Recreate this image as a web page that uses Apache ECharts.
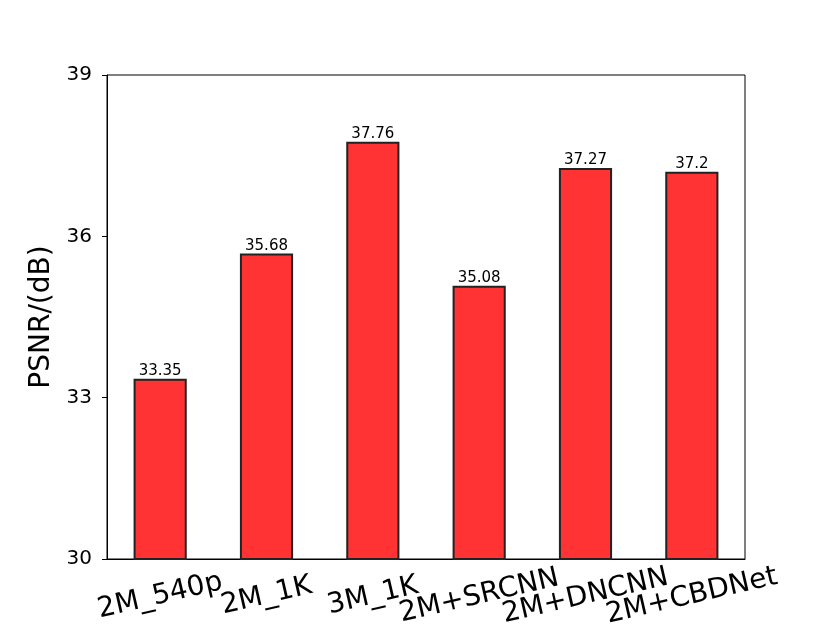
<!DOCTYPE html>
<html><head><meta charset="utf-8">
<script src="https://cdn.jsdelivr.net/npm/echarts@6/dist/echarts.min.js"></script>
<style>html,body{margin:0;padding:0;background:#fff}#c{width:830px;height:628px}</style>
</head><body><div id="c"></div>
<script>
const categories = ['2M_540p', '2M_1K', '3M_1K', '2M+SRCNN', '2M+DNCNN', '2M+CBDNet'];
const psnr = [33.35, 35.68, 37.76, 35.08, 37.27, 37.2];
const yTicks = [30, 33, 36, 39];

const chart = echarts.init(document.getElementById('c'), null, {renderer: 'canvas'});
const F = 'DejaVu Sans';
chart.setOption({
  animation: false,
  textStyle: {fontFamily: F},
  grid: {left: 107, right: 85, top: 75, bottom: 69, show: true, borderColor: '#000', borderWidth: 1, outerBoundsMode: 'none'},
  xAxis: {
    type: 'category', data: categories,
    axisLine: {lineStyle: {color: '#000', width: 1}},
    axisTick: {alignWithLabel: true, length: 5, lineStyle: {color: '#000'}},
    axisLabel: {rotate: 13, fontSize: 28, color: '#000', fontFamily: F, interval: 0, align: 'center', verticalAlign: 'middle', margin: 37}
  },
  yAxis: {
    type: 'value', min: 30, max: 39, interval: 3,
    name: 'PSNR/(dB)', nameLocation: 'middle', nameGap: 50,
    nameTextStyle: {fontSize: 28, color: '#000', fontFamily: F},
    axisLine: {show: true, lineStyle: {color: '#000', width: 1}},
    axisTick: {show: true, length: 5, lineStyle: {color: '#000'}},
    splitLine: {show: false},
    axisLabel: {fontSize: 20, color: '#000', fontFamily: F, margin: 15,
      formatter: v => yTicks.includes(v) ? String(v) : ''}
  },
  series: [{
    type: 'bar', data: psnr, barWidth: '50%',
    itemStyle: {color: '#ff3333', borderColor: '#222', borderWidth: 2},
    label: {show: true, position: 'top', distance: 0, fontSize: 15, color: '#000', fontFamily: F}
  }]
});
</script></body></html>
